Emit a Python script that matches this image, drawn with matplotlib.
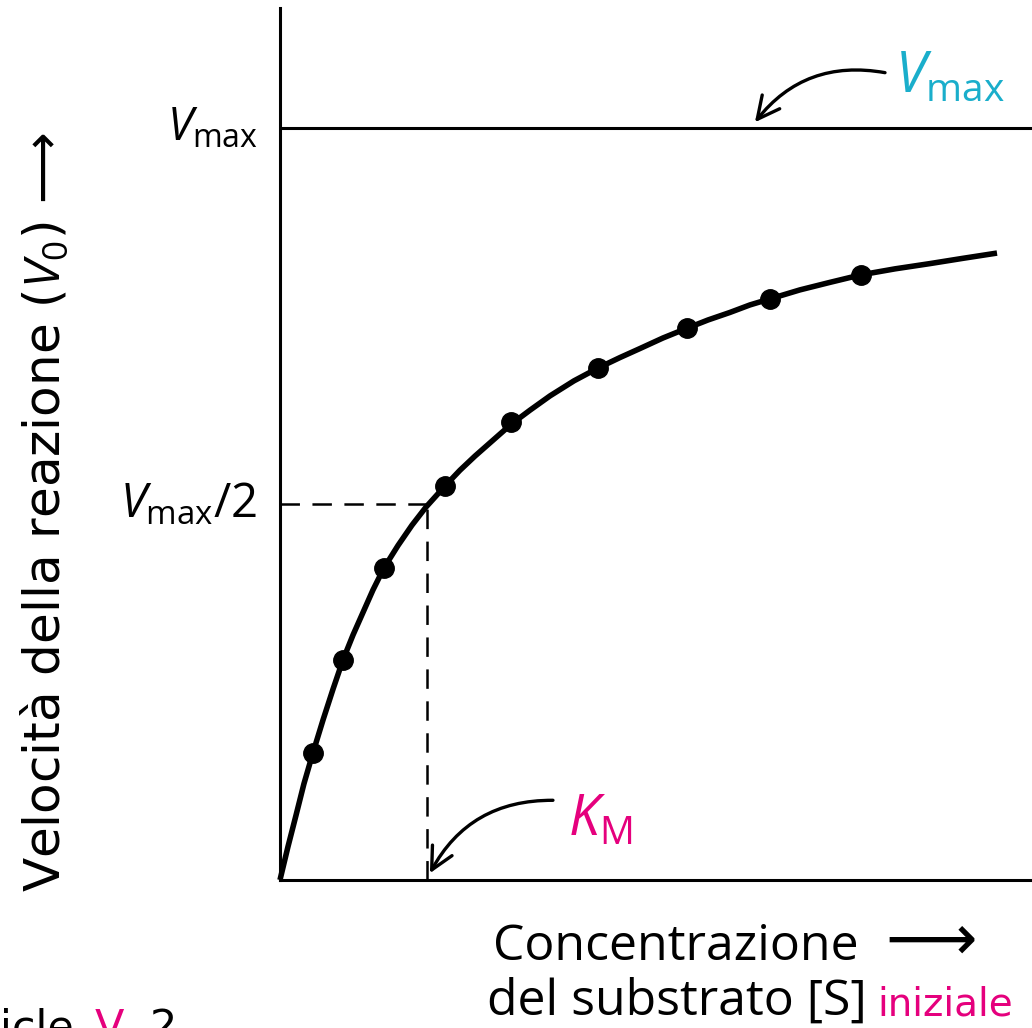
import matplotlib

matplotlib.use("Agg")
import matplotlib.pyplot as plt

# Michaelis-Menten plot, units: [S] in multiples of K_M, v0 in fractions of Vmax
VMAX = 1.0
KM = 1.0

s_points = [0.224, 0.429, 0.707, 1.122, 1.571, 2.163, 2.769, 3.333, 3.952]
v_points = [0.169, 0.293, 0.415, 0.524, 0.609, 0.681, 0.734, 0.773, 0.805]

# drawn saturation curve
s_curve = [0.0, 0.054, 0.109, 0.163, 0.224, 0.293, 0.361, 0.429, 0.497, 0.565,
           0.633, 0.707, 0.803, 0.898, 0.993, 1.122, 1.224, 1.327, 1.449, 1.571,
           1.701, 1.837, 2.000, 2.163, 2.313, 2.449, 2.605, 2.769, 2.912, 3.061,
           3.197, 3.333, 3.537, 3.741, 3.952, 4.184, 4.422, 4.646, 4.878]
v_curve = [0.0, 0.044, 0.086, 0.128, 0.169, 0.213, 0.254, 0.293, 0.326, 0.356,
           0.386, 0.415, 0.445, 0.472, 0.496, 0.524, 0.545, 0.564, 0.585, 0.606,
           0.625, 0.644, 0.664, 0.681, 0.695, 0.707, 0.721, 0.734, 0.745, 0.755,
           0.765, 0.773, 0.785, 0.795, 0.805, 0.813, 0.820, 0.827, 0.834]

X_MAX = 5.116
Y_MAX = 1.160

MAGENTA = "#e5007d"
CYAN = "#1aaecb"
MAIN_FONT = ["Open Sans", "DejaVu Sans"]
HAND_FONT = ["DejaVu Sans"]

plt.rcParams["mathtext.fontset"] = "custom"
plt.rcParams["mathtext.rm"] = "Open Sans"
plt.rcParams["mathtext.it"] = "Open Sans:italic"
plt.rcParams["lines.scale_dashes"] = False

fig = plt.figure(figsize=(10.32, 10.28), dpi=100)
ax = fig.add_axes([0.2713, 0.144, 0.7287, 0.8482])
ax.set_xlim(0, X_MAX)
ax.set_ylim(0, Y_MAX)
for side in ("top", "right"):
    ax.spines[side].set_visible(False)
for side in ("left", "bottom"):
    ax.spines[side].set_linewidth(2.2)
ax.set_xticks([])
ax.set_yticks([])

ax.axhline(VMAX, color="black", lw=2.2)
ax.plot([0, KM], [VMAX / 2, VMAX / 2], color="black", lw=1.8, dashes=(14, 9))
ax.plot([KM, KM], [0, VMAX / 2], color="black", lw=1.8, dashes=(14, 9))

ax.plot(s_curve, v_curve, color="black", lw=4.0, solid_capstyle="butt",
        solid_joinstyle="round", clip_on=False)
ax.plot(s_points, v_points, "o", color="black", ms=14, clip_on=False)

# labels on the y axis
ax.annotate(r"$\mathit{V}_{\mathrm{max}}$", xy=(0, VMAX), xytext=(-16, 0),
            textcoords="offset points", ha="right", va="center", fontsize=33)
ax.annotate(r"$\mathit{V}_{\mathrm{max}}$/2", xy=(0, VMAX / 2), xytext=(-16, 0),
            textcoords="offset points", ha="right", va="center", fontsize=34,
            family=MAIN_FONT)

# call-outs with curved arrows
arrow = dict(arrowstyle="->,head_length=0.8,head_width=0.4", color="black", lw=2.4,
             connectionstyle="arc3,rad=0.3", mutation_scale=20, shrinkA=0, shrinkB=0)
ax.annotate("", xy=(3.231, 1.008), xytext=(4.116, 1.074), arrowprops=arrow,
            annotation_clip=False)
ax.text(4.184, 1.068, r"$\mathit{V}_{\mathrm{max}}$", ha="left", va="center",
        fontsize=40, color=CYAN)
ax.annotate("", xy=(1.020, 0.009), xytext=(1.857, 0.106), arrowprops=arrow,
            annotation_clip=False)
ax.text(1.959, 0.080, r"$\mathit{K}_{\mathrm{M}}$", ha="left", va="center",
        fontsize=40, color=MAGENTA)

# axis titles
fig.text(0.0436, 0.502, r"Velocità della reazione ($\mathit{V}_0$) ⟶", rotation=90,
         ha="center", va="center", fontsize=36, family=["DejaVu Sans"])
fig.text(0.478, 0.066, "Concentrazione", ha="left", va="baseline",
         fontsize=36, family=MAIN_FONT)
fig.text(0.858, 0.066, "⟶", ha="left", va="baseline", fontsize=46,
         family=["DejaVu Sans"])
fig.text(0.472, 0.0126, "del substrato [S]", ha="left", va="baseline",
         fontsize=36, family=MAIN_FONT)
fig.text(0.850, 0.0126, "iniziale", ha="left", va="baseline",
         fontsize=28, color=MAGENTA, family=HAND_FONT)

# fragment of the next line of text, cut by the page edge
fig.text(0.0, -0.012, "icle", ha="left", va="baseline", fontsize=31, family=HAND_FONT)
fig.text(0.092, -0.012, "V", ha="left", va="baseline", fontsize=31, color=MAGENTA,
         family=HAND_FONT)
fig.text(0.145, -0.012, "2", ha="left", va="baseline", fontsize=31, family=HAND_FONT)

fig.savefig("out.png", dpi=100)
